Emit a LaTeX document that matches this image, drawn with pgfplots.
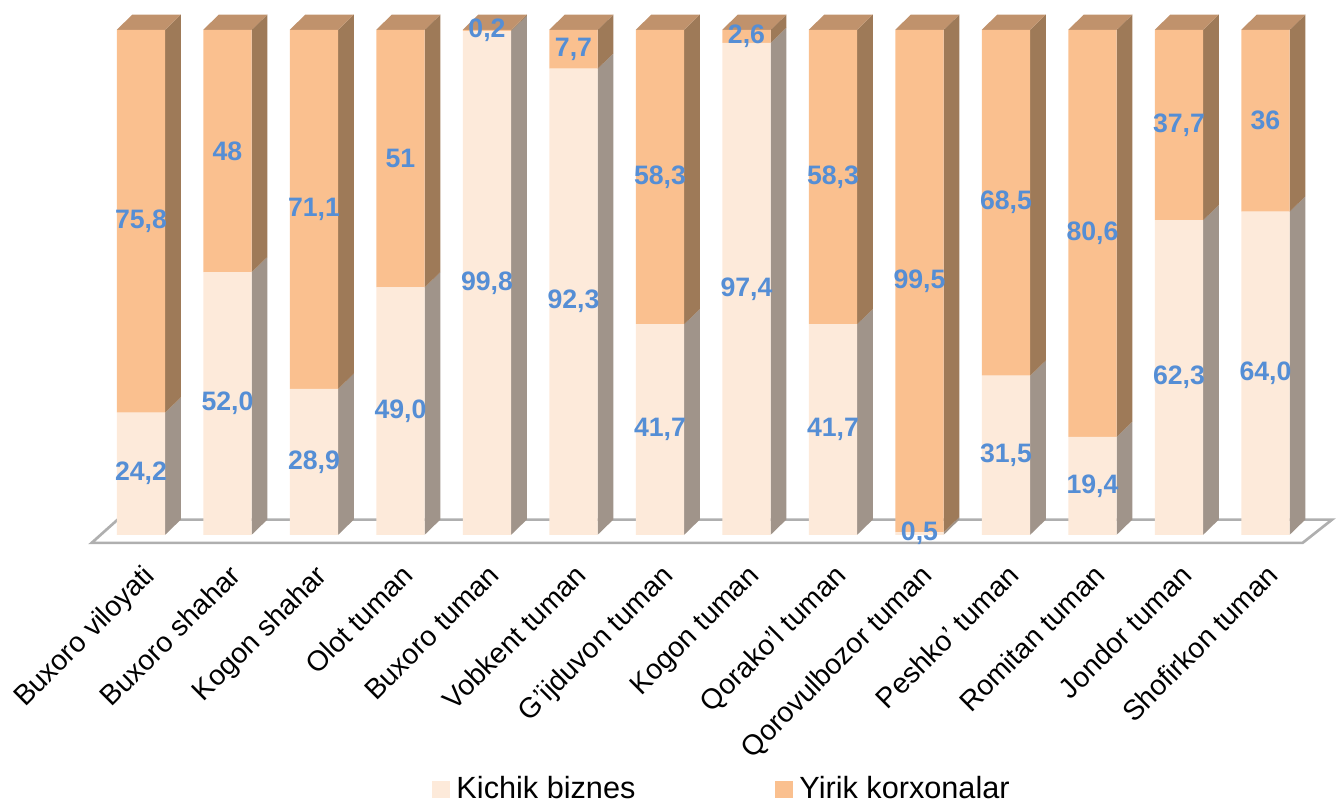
\documentclass[border=0pt]{standalone}
\usepackage{pgfplots}
\pgfplotsset{compat=1.18}
\usepackage{pgfplotstable}
\usepackage{fontspec}
\setmainfont{Liberation Sans}

\definecolor{smallfront}{RGB}{253,234,218}
\definecolor{bigfront}{RGB}{250,192,143}
\definecolor{smallside}{RGB}{160,148,138}
\definecolor{bigside}{RGB}{158,122,88}
\definecolor{topface}{RGB}{192,146,108}
\definecolor{labelblue}{RGB}{85,142,213}
\definecolor{floorline}{RGB}{175,175,175}

% x, Kichik biznes, Yirik korxonalar (ulush, %)
\pgfplotstableread{
x  k     kl    b     bl
0  24.2  24,2  75.8  75,8
1  52.0  52,0  48    48
2  28.9  28,9  71.1  71,1
3  49.0  49,0  51    51
4  99.8  99,8  0.2   0,2
5  92.3  92,3  7.7   7,7
6  41.7  41,7  58.3  58,3
7  97.4  97,4  2.6   2,6
8  41.7  41,7  58.3  58,3
9  0.5   0,5   99.5  99,5
10 31.5  31,5  68.5  68,5
11 19.4  19,4  80.6  80,6
12 62.3  62,3  37.7  37,7
13 64.0  64,0  36    36
}\shares

\pgfplotsset{
  base/.style={
    x=25.95pt, y=1.515pt,
    xmin=-1.63, xmax=13.85, ymin=-54.65, ymax=105.9,
    axis line style={draw=none}, tick style={draw=none},
    ytick=\empty, clip=false,
  },
}

\begin{document}
\begin{tikzpicture}
% floor, side and top faces, category names, legend
\begin{axis}[base,
    xtick={0,...,13},
    xticklabels={Buxoro viloyati, Buxoro shahar, Kogon shahar, Olot tuman,
      Buxoro tuman, Vobkent tuman, G'ijduvon tuman, Kogon tuman,
      Qorako'l tuman, Qorovulbozor tuman, Peshko' tuman, Romitan tuman,
      Jondor tuman, Shofirkon tuman},
    xticklabel style={rotate=45, anchor=north east, inner sep=1pt,
      font=\fontsize{8.5}{10}\selectfont},
    xticklabel shift=-76pt,
    unbounded coords=jump,
    legend style={at={(0.541,0)}, anchor=south, draw=none, inner sep=0pt,
      legend columns=2, font=\fontsize{9.2}{10}\selectfont,
      /tikz/every even column/.append style={column sep=40pt}},
    legend image code/.code={\fill[#1] (-1.5pt,-2.4pt) rectangle (3.3pt,2.4pt);},
  ]
\addlegendimage{smallfront}
\addlegendentry{Kichik biznes}
\addlegendimage{bigfront}
\addlegendentry{Yirik korxonalar}

\addplot[draw=floorline, line width=0.8pt, fill=white, forget plot]
  coordinates {(-0.57,-1.6) (13.43,-1.6) (13.77,3) (-0.27,3)} -- cycle;

\addplot[fill=smallside, draw=none, forget plot] coordinates {
  (0.28,0) (0.46,3) (0.46,27.2) (0.28,24.2) (nan,nan)
  (1.28,0) (1.46,3) (1.46,55) (1.28,52) (nan,nan)
  (2.28,0) (2.46,3) (2.46,31.9) (2.28,28.9) (nan,nan)
  (3.28,0) (3.46,3) (3.46,52) (3.28,49) (nan,nan)
  (4.28,0) (4.46,3) (4.46,102.8) (4.28,99.8) (nan,nan)
  (5.28,0) (5.46,3) (5.46,95.3) (5.28,92.3) (nan,nan)
  (6.28,0) (6.46,3) (6.46,44.7) (6.28,41.7) (nan,nan)
  (7.28,0) (7.46,3) (7.46,100.4) (7.28,97.4) (nan,nan)
  (8.28,0) (8.46,3) (8.46,44.7) (8.28,41.7) (nan,nan)
  (9.28,0) (9.46,3) (9.46,3.5) (9.28,0.5) (nan,nan)
  (10.28,0) (10.46,3) (10.46,34.5) (10.28,31.5) (nan,nan)
  (11.28,0) (11.46,3) (11.46,22.4) (11.28,19.4) (nan,nan)
  (12.28,0) (12.46,3) (12.46,65.3) (12.28,62.3) (nan,nan)
  (13.28,0) (13.46,3) (13.46,67) (13.28,64)
};
\addplot[fill=bigside, draw=none, forget plot] coordinates {
  (0.28,24.2) (0.46,27.2) (0.46,103) (0.28,100) (nan,nan)
  (1.28,52) (1.46,55) (1.46,103) (1.28,100) (nan,nan)
  (2.28,28.9) (2.46,31.9) (2.46,103) (2.28,100) (nan,nan)
  (3.28,49) (3.46,52) (3.46,103) (3.28,100) (nan,nan)
  (4.28,99.8) (4.46,102.8) (4.46,103) (4.28,100) (nan,nan)
  (5.28,92.3) (5.46,95.3) (5.46,103) (5.28,100) (nan,nan)
  (6.28,41.7) (6.46,44.7) (6.46,103) (6.28,100) (nan,nan)
  (7.28,97.4) (7.46,100.4) (7.46,103) (7.28,100) (nan,nan)
  (8.28,41.7) (8.46,44.7) (8.46,103) (8.28,100) (nan,nan)
  (9.28,0.5) (9.46,3.5) (9.46,103) (9.28,100) (nan,nan)
  (10.28,31.5) (10.46,34.5) (10.46,103) (10.28,100) (nan,nan)
  (11.28,19.4) (11.46,22.4) (11.46,103) (11.28,100) (nan,nan)
  (12.28,62.3) (12.46,65.3) (12.46,103) (12.28,100) (nan,nan)
  (13.28,64) (13.46,67) (13.46,103) (13.28,100)
};
\addplot[fill=topface, draw=none, forget plot] coordinates {
  (-0.28,100) (0.28,100) (0.46,103) (-0.10,103) (nan,nan)
  (0.72,100) (1.28,100) (1.46,103) (0.90,103) (nan,nan)
  (1.72,100) (2.28,100) (2.46,103) (1.90,103) (nan,nan)
  (2.72,100) (3.28,100) (3.46,103) (2.90,103) (nan,nan)
  (3.72,100) (4.28,100) (4.46,103) (3.90,103) (nan,nan)
  (4.72,100) (5.28,100) (5.46,103) (4.90,103) (nan,nan)
  (5.72,100) (6.28,100) (6.46,103) (5.90,103) (nan,nan)
  (6.72,100) (7.28,100) (7.46,103) (6.90,103) (nan,nan)
  (7.72,100) (8.28,100) (8.46,103) (7.90,103) (nan,nan)
  (8.72,100) (9.28,100) (9.46,103) (8.90,103) (nan,nan)
  (9.72,100) (10.28,100) (10.46,103) (9.90,103) (nan,nan)
  (10.72,100) (11.28,100) (11.46,103) (10.90,103) (nan,nan)
  (11.72,100) (12.28,100) (12.46,103) (11.90,103) (nan,nan)
  (12.72,100) (13.28,100) (13.46,103) (12.90,103)
};
\end{axis}

% front faces
\begin{axis}[base, xtick=\empty, ybar stacked, bar width=0.56]
\addplot[fill=smallfront, draw=none] table[x=x, y=k] {\shares};
\addplot[fill=bigfront, draw=none] table[x=x, y=b] {\shares};
\end{axis}

% value labels, centred in each segment, on top of everything
\begin{axis}[base, xtick=\empty,
    nodes near coords, point meta=explicit symbolic,
    every node near coord/.append style={anchor=center, text=labelblue,
      font=\bfseries\fontsize{8}{9}\selectfont},
  ]
\addplot[draw=none, mark=none] table[x=x, y expr=\thisrow{k}/2, meta=kl] {\shares};
\addplot[draw=none, mark=none] table[x=x, y expr=\thisrow{k}+\thisrow{b}/2, meta=bl] {\shares};
\end{axis}
\end{tikzpicture}
\end{document}
